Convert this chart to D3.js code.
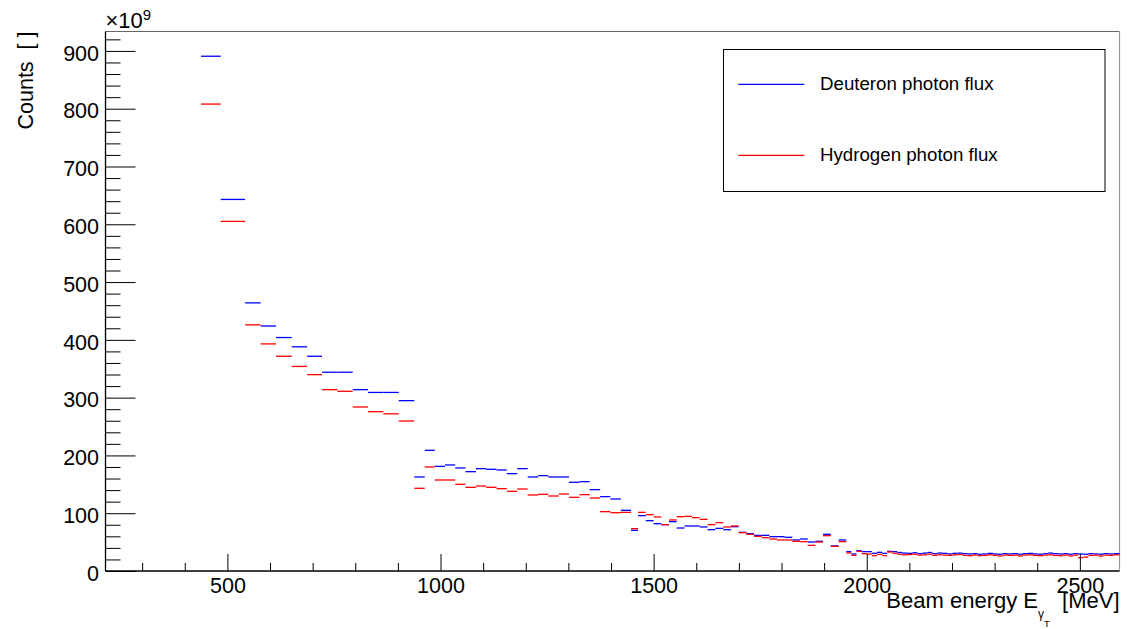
<!DOCTYPE html>
<html><head><meta charset="utf-8">
<script src="https://cdn.jsdelivr.net/npm/d3@7/dist/d3.min.js"></script>
<style>
body{margin:0;background:#fff;}
svg{display:block;font-family:"Liberation Sans",Arial,Helvetica,sans-serif;}
</style>
</head><body>
<svg id="chart" width="1128" height="629"></svg>
<script>
// ---- data (energies in MeV, counts in units of 1e9) ----
const binEdges = [438, 484.5, 541.5, 578, 614, 651, 687, 722, 758, 794, 830, 866, 902, 938.5,
  963, 986.5, 1010.5, 1034.5, 1058.5, 1083, 1107, 1131.5, 1155.5, 1180, 1204.5, 1229, 1253, 1277.5,
  1301.5, 1326, 1350, 1374.5, 1398.5, 1423, 1447, 1463.5, 1481.5, 1500, 1518, 1536, 1554, 1572.5,
  1590, 1608, 1626.5, 1645, 1663.5, 1681.5, 1699.5, 1717.5, 1735.5, 1753.5, 1771.5, 1789.5, 1807.5,
  1825.5, 1843.5, 1861.5, 1879.5, 1897.5, 1915.5, 1934, 1952, 1964, 1976, 1988, 2000, 2012, 2024,
  2036, 2048, 2060, 2071.5, 2083, 2095, 2107, 2119, 2130.5, 2142, 2154, 2166, 2178, 2189.5, 2201,
  2213, 2225, 2237, 2248.5, 2260, 2272, 2284, 2296, 2307.5, 2319, 2331, 2343, 2355, 2366.5, 2378,
  2390, 2402, 2414, 2425.5, 2437, 2449, 2461, 2473, 2484.5, 2496, 2508, 2520, 2532, 2543.5, 2555,
  2567, 2579, 2593];

const deuteronFlux = [890.8, 643, 464, 424, 404, 388, 371.6, 344, 344, 313.8, 309, 309, 294.8,
  162.7, 208.8, 181.1, 183.5, 178.3, 171.9, 177.1, 176.0, 174.8, 168.5, 177.1, 162.7, 165.0, 162.7,
  162.7, 153.5, 154.6, 140.8, 128.7, 124.6, 105.0, 70.4, 95.8, 87.1, 81.9, 80.2, 85.4, 74.4, 77.9,
  77.9, 76.2, 71.5, 73.8, 71.5, 76.7, 66.9, 64.6, 61.7, 61.7, 59.4, 59.4, 58.3, 53.7, 55.4, 50.2,
  51.4, 63.5, 43.3, 53.7,
  33.5, 29.4, 35.2, 33.5, 33.5, 30.6, 32.3, 30.6, 34.0,
  33.5, 32, 31, 30.5, 31.5, 30, 31, 32, 30, 31, 30.5, 29.5, 30.5, 31, 30, 29.5, 30, 29, 29.5, 30.5,
  29.5, 29, 30, 29.5, 30, 29, 30, 30.5, 29.5, 29, 30, 31, 30, 29.5, 30, 29, 30, 29.5, 29, 30, 29.5,
  29, 30, 29.5, 30];

const hydrogenFlux = [808, 605, 426, 393, 371.6, 354, 339.8, 313.8, 311, 283.8, 275.7, 272, 259.6,
  143.1, 180.0, 157.5, 157.5, 150.0, 144.8, 147.1, 144.8, 142.5, 137.9, 141.9, 131.5, 132.7, 129.8,
  133.3, 127.5, 132.1, 126.3, 102.7, 100.9, 101.5, 73.3, 101.5, 97.5, 93.5, 80.2, 88.3, 94.0, 94.6,
  92.3, 89.4, 80.2, 83.6, 76.2, 77.9, 66.3, 63.5, 60.0, 57.7, 55.4, 53.7, 53.7, 51.4, 50.8, 44.4,
  50.2, 61.1, 42.7, 50.8,
  31.2, 27.1, 34.0, 30.0, 29.4, 26.5, 28.8, 26.5, 32.9,
  30.6, 29, 28, 28.5, 29, 27.5, 28, 29, 27, 28, 27.5, 27, 28, 28.5, 27, 26.5, 27.5, 26.5, 27, 28,
  27, 26, 27.5, 27, 27.5, 26, 27.5, 28, 27, 26.5, 27.5, 28, 27, 26.5, 27.5, 26, 27.5, 23, 24, 27,
  27.5, 26, 27.5, 27, 28];

const seriesNames = ["Deuteron photon flux", "Hydrogen photon flux"];
const seriesColors = ["#0000ff", "#ff0000"];
const xMajorTicks = [500, 1000, 1500, 2000, 2500];
const xMinorTicks = [300, 400, 600, 700, 800, 900, 1100, 1200, 1300, 1400, 1600, 1700, 1800, 1900,
  2100, 2200, 2300, 2400];
const yMajorTicks = [0, 100, 200, 300, 400, 500, 600, 700, 800, 900];
const yMinorTicks = [20, 40, 60, 80, 120, 140, 160, 180, 220, 240, 260, 280, 320, 340, 360, 380,
  420, 440, 460, 480, 520, 540, 560, 580, 620, 640, 660, 680, 720, 740, 760, 780, 820, 840, 860, 880,
  920];
const xRange = [214, 2593];
const yRange = [0, 933.6];

// ---- layout ----
const L = 105.5, R = 1119.5, T = 31.5, B = 571;
const FS = 21.5;
const svg = d3.select("#chart");

const x = d3.scaleLinear().domain(xRange).range([L, R]);
const y = d3.scaleLinear().domain(yRange).range([B, T]);

// frame (top/right)
svg.append("line").attr("x1", L).attr("x2", R).attr("y1", T).attr("y2", T)
  .attr("stroke", "#666").attr("stroke-width", 1);
svg.append("line").attr("x1", R).attr("x2", R).attr("y1", T).attr("y2", B)
  .attr("stroke", "#999").attr("stroke-width", 1.2);

// histograms
const bins = binEdges.slice(0, -1).map((e, i) => ({ x0: e, x1: binEdges[i + 1], d: deuteronFlux[i], h: hydrogenFlux[i] }));
[["d", 0], ["h", 1]].forEach(([k, si]) => {
  svg.append("g").selectAll("line").data(bins.filter(b => b[k] != null)).join("line")
    .attr("x1", b => x(b.x0)).attr("x2", b => x(b.x1))
    .attr("y1", b => y(b[k])).attr("y2", b => y(b[k]))
    .attr("stroke", seriesColors[si]).attr("stroke-width", 1.3);
});

// axes
function styleAxis(g) {
  g.select(".domain").remove();
  g.selectAll(".tick line").attr("stroke", "#000").attr("stroke-width", 1);
  g.selectAll("text").attr("fill", "#000").attr("font-size", FS)
    .attr("font-family", '"Liberation Sans",Arial,Helvetica,sans-serif');
}
svg.append("g").attr("transform", `translate(0,${B})`)
  .call(d3.axisBottom(x).tickValues(xMinorTicks).tickSize(-8).tickFormat(""))
  .call(styleAxis);
svg.append("g").attr("transform", `translate(0,${B})`)
  .call(d3.axisBottom(x).tickValues(xMajorTicks).tickSize(-17).tickPadding(6.5).tickFormat(d3.format("d")))
  .call(styleAxis)
  .call(g => g.selectAll("text").attr("dy", "0.71em"));
svg.append("g").attr("transform", `translate(${L},0)`)
  .call(d3.axisLeft(y).tickValues(yMinorTicks).tickSize(-15).tickFormat(""))
  .call(styleAxis);
svg.append("g").attr("transform", `translate(${L},0)`)
  .call(d3.axisLeft(y).tickValues(yMajorTicks).tickSize(-30).tickPadding(6.5).tickFormat(d3.format("d")))
  .call(styleAxis)
  .call(g => g.selectAll("text").attr("dy", "0.43em"));

// axis lines
svg.append("line").attr("x1", L).attr("x2", R).attr("y1", B).attr("y2", B)
  .attr("stroke", "#000").attr("stroke-width", 1.5);
svg.append("line").attr("x1", L).attr("x2", L).attr("y1", T).attr("y2", B)
  .attr("stroke", "#000").attr("stroke-width", 1.3);

// exponent label
const ex = svg.append("text").attr("x", L).attr("y", 28.3).attr("font-size", 22).attr("fill", "#000");
ex.append("tspan").text("\u00d710");
ex.append("tspan").attr("dy", -8).attr("font-size", 15).text("9");

// y title
svg.append("text").attr("transform", `translate(33,${T}) rotate(-90)`)
  .attr("text-anchor", "end").attr("font-size", FS).attr("fill", "#000")
  .attr("xml:space", "preserve").text("Counts  [ ]");

// x title
const xt = svg.append("text").attr("x", R).attr("y", 607.5).attr("text-anchor", "end")
  .attr("font-size", 22).attr("fill", "#000").attr("xml:space", "preserve");
xt.append("tspan").text("Beam energy E");
xt.append("tspan").attr("dy", 10).attr("font-size", 12).text("\u03b3");
xt.append("tspan").attr("dy", 9).attr("font-size", 9.5).text("T");
xt.append("tspan").attr("dy", -19).text("  [MeV]");

// legend
const lg = svg.append("g");
lg.append("rect").attr("x", 723.5).attr("y", 49.5).attr("width", 381.5).attr("height", 142)
  .attr("fill", "#fff").attr("stroke", "#000").attr("stroke-width", 1);
seriesNames.forEach((n, i) => {
  const yy = 84.3 + i * 71;
  lg.append("line").attr("x1", 738.3).attr("x2", 804.3).attr("y1", yy).attr("y2", yy)
    .attr("stroke", seriesColors[i]).attr("stroke-width", 1.3);
  lg.append("text").attr("x", 820).attr("y", yy + 6).attr("font-size", 18.7).attr("fill", "#000").text(n);
});
</script>
</body></html>
